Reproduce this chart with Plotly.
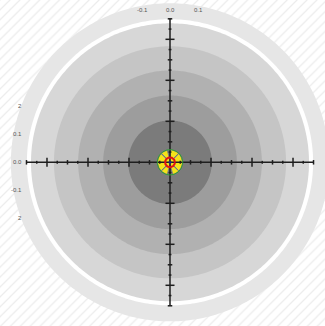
import numpy as np
import plotly.graph_objects as go

# ---- data (target units; 1 unit = one major tick interval) ----
ring_radii = [3.39, 2.83, 2.24, 1.63, 1.02]
ring_colors = ["#d7d7d7", "#c5c5c5", "#b1b1b1", "#9d9d9d", "#7b7b7b"]
outer_radius = 3.88
outer_color = "#e6e6e6"
white_ring_radius = 3.49
axis_extent = 3.5

major_ticks = [-3, -2, -1, 1, 2, 3]
half_ticks = [-3.5, -2.5, -1.5, -0.5, 0.5, 1.5, 2.5, 3.5]
quarter_ticks = [-3.25, -2.75, -2.25, -1.75, -1.25, -0.75, -0.25,
                 0.25, 0.75, 1.25, 1.75, 2.25, 2.75, 3.25]

# hit-zone wedges (start deg, end deg)
yellow_wedges = [(105, 255), (-75, 85)]
yellow_radius = 0.29
green_radius = 0.31
red_radius = 0.12
blue_angles = [45, 135, 225, 315]
blue_inner, blue_outer = 0.12, 0.29

# tick labels of the offset scale
top_label_values = [-0.1, 0.0, 0.1]
top_label_texts = ["-0.1", "0.0", "0.1"]
left_label_values = [0.2, 0.1, 0.0, -0.1, -0.2]
left_label_texts = ["2", "0.1", "0.0", "-0.1", "2"]
label_scale = 6.83  # target units per label unit

x_range = [-4.146, 3.780]
y_range = [-3.993, 3.959]


def circle(r, n=361):
    t = np.linspace(0, 2 * np.pi, n)
    return r * np.cos(t), r * np.sin(t)


def wedge(r, a0, a1, n=60):
    t = np.radians(np.linspace(a0, a1, n))
    x = np.concatenate([[0], r * np.cos(t), [0]])
    y = np.concatenate([[0], r * np.sin(t), [0]])
    return x, y


fig = go.Figure()

# hatched background
fig.add_trace(go.Scatter(
    x=[x_range[0], x_range[1], x_range[1], x_range[0], x_range[0]],
    y=[y_range[0], y_range[0], y_range[1], y_range[1], y_range[0]],
    fill="toself", mode="none", fillcolor="white",
    fillpattern=dict(shape="/", fgcolor="#dadada", bgcolor="white",
                     size=7, solidity=0.18),
))


def filled_circle(r, color):
    cx, cy = circle(r)
    fig.add_trace(go.Scatter(x=cx, y=cy, fill="toself", mode="none",
                             fillcolor=color))


filled_circle(outer_radius, outer_color)
filled_circle(white_ring_radius, "white")
for r, c in zip(ring_radii, ring_colors):
    filled_circle(r, c)

# yellow wedges
for a0, a1 in yellow_wedges:
    wx, wy = wedge(yellow_radius, a0, a1)
    fig.add_trace(go.Scatter(x=wx, y=wy, fill="toself", mode="none",
                             fillcolor="#f3e41a"))

# axes lines and ticks
lx, ly = [], []
lx += [-axis_extent, axis_extent, None, 0, 0, None]
ly += [0, 0, None, -axis_extent, axis_extent, None]
for ticks, h in [(major_ticks, 0.11), (half_ticks, 0.055), (quarter_ticks, 0.035)]:
    for t in ticks:
        lx += [t, t, None, -h, h, None]
        ly += [-h, h, None, t, t, None]
fig.add_trace(go.Scatter(x=lx, y=ly, mode="lines",
                         line=dict(color="#1e1e1e", width=1.5)))

# green circle
gx, gy = circle(green_radius)
fig.add_trace(go.Scatter(x=gx, y=gy, mode="lines",
                         line=dict(color="#2f9e35", width=1)))

# blue lines
bx, by = [], []
for a in blue_angles:
    ar = np.radians(a)
    bx += [blue_inner * np.cos(ar), blue_outer * np.cos(ar), None]
    by += [blue_inner * np.sin(ar), blue_outer * np.sin(ar), None]
fig.add_trace(go.Scatter(x=bx, y=by, mode="lines",
                         line=dict(color="#3442c4", width=1)))

# red circle
rx, ry = circle(red_radius)
fig.add_trace(go.Scatter(x=rx, y=ry, mode="lines",
                         line=dict(color="#e01515", width=2)))
fig.add_trace(go.Scatter(x=[0], y=[0], mode="markers",
                         marker=dict(color="#202a80", size=3)))

# labels
annotations = []
for v, t in zip(top_label_values, top_label_texts):
    annotations.append(dict(x=v * label_scale, y=3.715, text=t, showarrow=False,
                            xanchor="center", yanchor="middle",
                            font=dict(size=6, color="#555555", family="Arial")))
for v, t in zip(left_label_values, left_label_texts):
    annotations.append(dict(x=-3.56, y=v * label_scale, text=t, showarrow=False,
                            xanchor="right", yanchor="middle",
                            font=dict(size=6, color="#555555", family="Arial")))

fig.update_layout(
    width=325, height=326,
    margin=dict(l=0, r=0, t=0, b=0),
    paper_bgcolor="white", plot_bgcolor="white",
    showlegend=False, hovermode=False,
    xaxis=dict(range=x_range, visible=False, fixedrange=True),
    yaxis=dict(range=y_range, visible=False, fixedrange=True),
    annotations=annotations,
)

fig.write_html(
    "out.html",
    config={"displayModeBar": False, "staticPlot": True},
    post_script="document.body.style.margin='0';document.body.style.padding='0';"
                "document.body.style.overflow='hidden';",
)
